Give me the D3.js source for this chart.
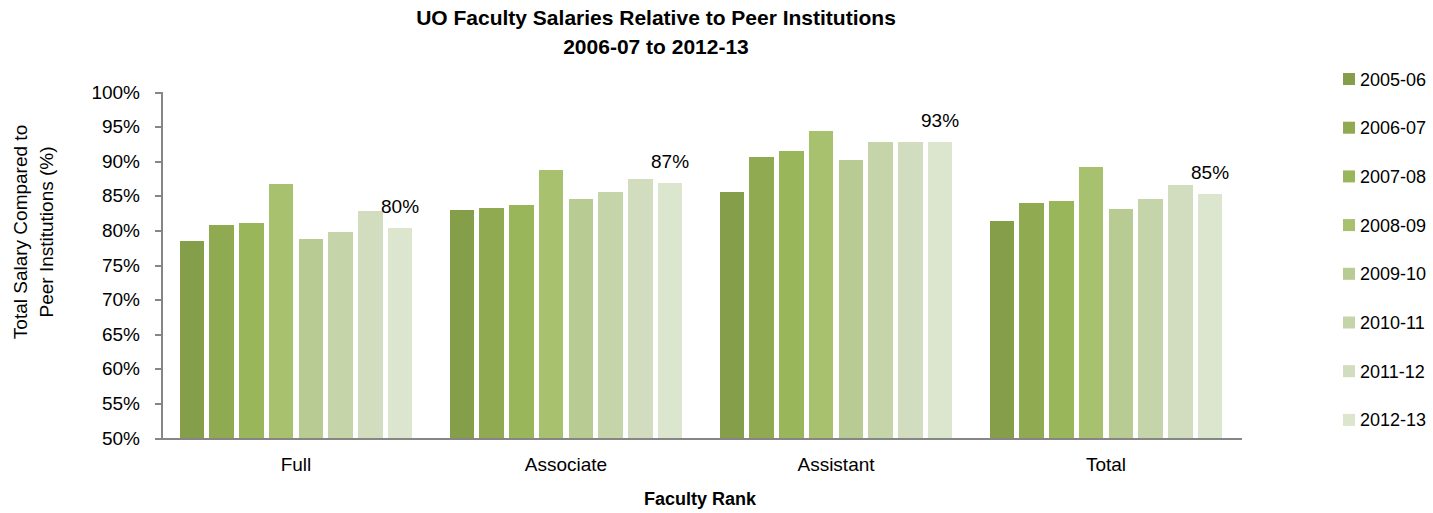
<!DOCTYPE html>
<meta charset="utf-8">
<script src="https://cdn.jsdelivr.net/npm/d3@7"></script>
<style type="text/css">
body {
  margin: 0;
  background: #fff;
}
text {
  font-family: "Liberation Sans", Arial, sans-serif;
  fill: #000;
}
.axis path,
.axis line {
  fill: none;
  stroke: #868686;
  stroke-width: 2;
  shape-rendering: crispEdges;
}
.bar {
  shape-rendering: crispEdges;
}
</style>
<body>
<script>

// data
var ranks = ["Full", "Associate", "Assistant", "Total"];
var years = ["2005-06", "2006-07", "2007-08", "2008-09", "2009-10", "2010-11", "2011-12", "2012-13"];
var full      = [78.5, 80.8, 81.1, 86.7, 78.8, 79.8, 82.8, 80.3];
var associate = [82.9, 83.3, 83.6, 88.7, 84.6, 85.5, 87.4, 86.9];
var assistant = [85.5, 90.6, 91.5, 94.4, 90.2, 92.8, 92.8, 92.8];
var total     = [81.4, 83.9, 84.2, 89.2, 83.1, 84.5, 86.6, 85.3];
var yTicks = [50, 55, 60, 65, 70, 75, 80, 85, 90, 95, 100];
var colors = ["#849E4A", "#8FAA51", "#9AB65A", "#A7C16E", "#B7CB92", "#C5D4A9", "#D1DDBE", "#DCE5CD"];

var values = [full, associate, assistant, total];

var W = 1433, H = 513;
var margin = {top: 92, right: 192, bottom: 75, left: 161};
var width = W - margin.left - margin.right,
    height = H - margin.top - margin.bottom;

var svg = d3.select("body").append("svg")
    .attr("width", W)
    .attr("height", H);

var g = svg.append("g")
    .attr("transform", "translate(" + margin.left + "," + margin.top + ")");

var x0 = d3.scaleBand().domain(ranks).range([0, width]);
var x1 = d3.scaleBand().domain(years).range([0, x0.bandwidth()])
    .paddingInner(0.175).paddingOuter(0.63);
var y = d3.scaleLinear().domain([50, 100]).range([height, 0]);
var color = d3.scaleOrdinal().domain(years).range(colors);

// bars
var groups = g.selectAll(".group").data(ranks).enter().append("g")
    .attr("class", "group")
    .attr("transform", function(d) { return "translate(" + x0(d) + ",0)"; });

groups.selectAll("rect").data(function(d, i) {
        return years.map(function(yr, j) { return {year: yr, value: values[i][j]}; });
    }).enter().append("rect")
    .attr("class", "bar")
    .attr("x", function(d) { return x1(d.year); })
    .attr("y", function(d) { return y(d.value); })
    .attr("width", x1.bandwidth())
    .attr("height", function(d) { return height - y(d.value); })
    .style("fill", function(d) { return color(d.year); });

// label on the last year only
var last = years[years.length - 1];
groups.append("text")
    .attr("x", x1(last) + x1.bandwidth() / 2)
    .attr("y", function(d, i) { return y(values[i][years.length - 1]) - 15; })
    .style("text-anchor", "middle")
    .style("font-size", "19px")
    .text(function(d, i) { return Math.round(values[i][years.length - 1]) + "%"; });

// axes
var yAxis = d3.axisLeft(y).tickValues(yTicks).tickSize(6).tickPadding(15)
    .tickFormat(function(d) { return d + "%"; });
g.append("g").attr("class", "y axis").call(yAxis)
    .selectAll("text").style("font-size", "19px").attr("fill", "#000");

var xAxis = d3.axisBottom(x0).tickSize(0).tickPadding(20).tickSizeOuter(0);
g.append("g").attr("class", "x axis")
    .attr("transform", "translate(0," + height + ")")
    .call(xAxis)
    .selectAll("text").style("font-size", "19px").attr("fill", "#000");

// title
var title = svg.append("text")
    .attr("x", 656)
    .attr("y", 25)
    .style("text-anchor", "middle")
    .style("font-weight", "bold")
    .style("font-size", "21px");
title.append("tspan").attr("x", 656).text("UO Faculty Salaries Relative to Peer Institutions");
title.append("tspan").attr("x", 656).attr("dy", 29).text("2006-07 to 2012-13");

// axis titles
svg.append("text")
    .attr("x", 700)
    .attr("y", 505)
    .style("text-anchor", "middle")
    .style("font-weight", "bold")
    .style("font-size", "18px")
    .text("Faculty Rank");

var ytitle = svg.append("text")
    .attr("transform", "translate(27,232) rotate(-90)")
    .style("text-anchor", "middle")
    .style("font-size", "19px");
ytitle.append("tspan").attr("x", 0).attr("y", 0).text("Total Salary Compared to");
ytitle.append("tspan").attr("x", 0).attr("y", 26).text("Peer Institutions (%)");

// legend
var legend = svg.selectAll(".legend").data(years).enter().append("g")
    .attr("class", "legend")
    .attr("transform", function(d, i) { return "translate(1343," + (79 + i * 48.7) + ")"; });
legend.append("rect")
    .attr("x", 0).attr("y", -6)
    .attr("width", 12).attr("height", 12)
    .style("fill", function(d) { return color(d); });
legend.append("text")
    .attr("x", 17).attr("y", 6.5)
    .style("font-size", "18px")
    .text(function(d) { return d; });

</script>
</body>
</html>
